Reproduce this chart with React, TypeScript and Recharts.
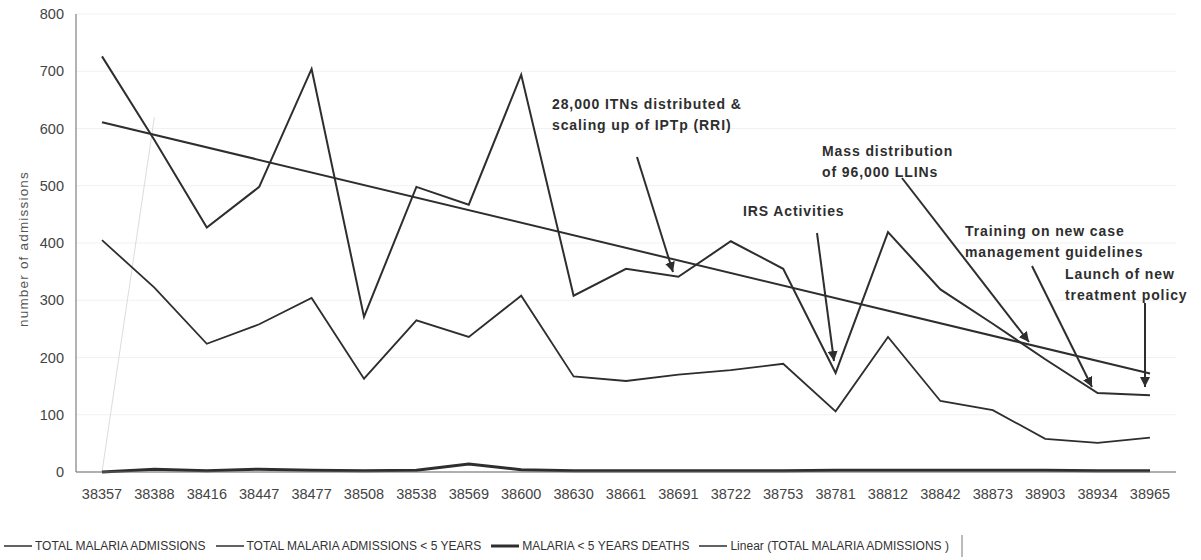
import React from 'react';
import { LineChart, Line, XAxis, YAxis, CartesianGrid } from 'recharts';

// Monthly reporting periods (spreadsheet serial dates)
const months = [
  '38357', '38388', '38416', '38447', '38477', '38508', '38538', '38569', '38600', '38630', '38661',
  '38691', '38722', '38753', '38781', '38812', '38842', '38873', '38903', '38934', '38965',
];

const totalAdmissions = [726, 580, 427, 498, 704, 271, 498, 467, 694, 308, 355, 341, 403, 355, 173, 419, 319, 259, 197, 138, 134];
const under5Admissions = [405, 322, 224, 258, 304, 163, 265, 236, 308, 167, 159, 170, 178, 189, 106, 236, 124, 108, 58, 51, 60];
const under5Deaths = [0, 5, 2, 5, 3, 2, 3, 14, 4, 2, 2, 2, 2, 2, 3, 3, 3, 3, 3, 2, 2];
// Linear trend of total admissions: end points only, joined straight
const trendTotal: (number | null)[] = [611, null, null, null, null, null, null, null, null, null, null, null, null, null, null, null, null, null, null, null, 172];
// Faint helper series visible at the start of the period
const faintSeries: (number | null)[] = [0, 620, null, null, null, null, null, null, null, null, null, null, null, null, null, null, null, null, null, null, null];

const yTicks = [0, 100, 200, 300, 400, 500, 600, 700, 800];

const legendItems = [
  { label: 'TOTAL MALARIA ADMISSIONS', width: 1.5 },
  { label: 'TOTAL MALARIA ADMISSIONS < 5 YEARS', width: 1.5 },
  { label: 'MALARIA < 5 YEARS DEATHS', width: 3 },
  { label: 'Linear (TOTAL MALARIA ADMISSIONS )', width: 1.5 },
];

// Event annotations (text block origin and arrow tail -> head)
const annotations = [
  { lines: ['28,000 ITNs distributed &', 'scaling up of IPTp (RRI)'], x: 552, y: 104, arrow: [637, 157, 673, 272] },
  { lines: ['IRS Activities'], x: 743, y: 211, arrow: [817, 233, 834, 361] },
  { lines: ['Mass distribution', 'of 96,000 LLINs'], x: 822, y: 151, arrow: [902, 178, 1029, 342] },
  { lines: ['Training on new case', 'management guidelines'], x: 965, y: 231, arrow: [1032, 266, 1092, 387] },
  { lines: ['Launch of new', 'treatment policy'], x: 1065, y: 274, arrow: [1145, 303, 1145, 387] },
];

const data = months.map((m, i) => ({
  month: m,
  total: totalAdmissions[i],
  under5: under5Admissions[i],
  deaths: under5Deaths[i],
  trend: trendTotal[i],
  faint: faintSeries[i],
}));

const FONT = '"Liberation Sans", Arial, Helvetica, sans-serif';
const INK = '#2e2e2e';

const YTitle = (props: any) => {
  const vb = props.viewBox || { x: 0, y: 0, width: 0, height: 0 };
  const cx = vb.x + 23;
  const cy = vb.y + vb.height / 2 + 6;
  return (
    <text
      x={cx}
      y={cy}
      transform={`rotate(-90, ${cx}, ${cy})`}
      textAnchor="middle"
      dominantBaseline="central"
      fill="#555"
      fontSize={13.5}
      letterSpacing={1.2}
      fontFamily={FONT}
    >
      number of admissions
    </text>
  );
};

export default function App() {
  return (
    <div style={{ position: 'absolute', left: 0, top: 0, width: 1201, height: 560, background: '#fff', fontFamily: FONT }}>
      <LineChart width={1201} height={560} data={data} margin={{ top: 14, right: 25, left: 0, bottom: 58 }}>
        <CartesianGrid vertical={false} stroke="#f1f1f1" />
        <XAxis
          dataKey="month"
          height={30}
          padding={{ left: 26, right: 26 }}
          tickLine={false}
          axisLine={{ stroke: '#666', strokeWidth: 1 }}
          tickMargin={11}
          tick={{ fill: '#444', fontSize: 14.5, fontFamily: FONT }}
          interval={0}
        />
        <YAxis
          width={76}
          domain={[0, 800]}
          ticks={yTicks}
          tickLine={false}
          tickSize={0}
          tickMargin={12}
          axisLine={{ stroke: '#666', strokeWidth: 1 }}
          tick={{ fill: '#444', fontSize: 14.5, fontFamily: FONT }}
          label={{ content: YTitle }}
        />
        <YAxis
          yAxisId="frame"
          orientation="right"
          width={0}
          domain={[0, 800]}
          tick={false}
          tickLine={false}
          axisLine={{ stroke: '#9a9a9a', strokeDasharray: '1 2' }}
        />
        <Line dataKey="faint" stroke="#dcdcdc" strokeWidth={1} dot={false} legendType="none" isAnimationActive={false} />
        <Line dataKey="deaths" stroke={INK} strokeWidth={3} dot={false} isAnimationActive={false} />
        <Line dataKey="under5" stroke={INK} strokeWidth={1.8} dot={false} isAnimationActive={false} />
        <Line dataKey="total" stroke={INK} strokeWidth={2} dot={false} isAnimationActive={false} />
        <Line dataKey="trend" stroke={INK} strokeWidth={2} dot={false} connectNulls isAnimationActive={false} />
      </LineChart>

      <svg width={1201} height={560} style={{ position: 'absolute', left: 0, top: 0, pointerEvents: 'none' }}>
        <defs>
          <marker id="head" viewBox="0 0 10 10" refX="10" refY="5" markerWidth="10" markerHeight="10" markerUnits="userSpaceOnUse" orient="auto">
            <path d="M0,0 L10,5 L0,10 z" fill={INK} />
          </marker>
        </defs>
        {annotations.map((a, i) => (
          <g key={i}>
            {a.lines.map((t, j) => (
              <text
                key={j}
                x={a.x}
                y={a.y + j * 21}
                dominantBaseline="central"
                fontFamily={FONT}
                fontWeight="bold"
                fontSize={14}
                letterSpacing={0.9}
                fill={INK}
              >
                {t}
              </text>
            ))}
            <line x1={a.arrow[0]} y1={a.arrow[1]} x2={a.arrow[2]} y2={a.arrow[3]} stroke={INK} strokeWidth={2} markerEnd="url(#head)" />
          </g>
        ))}
      </svg>

      <div
        style={{
          position: 'absolute',
          left: 4,
          top: 535,
          display: 'flex',
          alignItems: 'center',
          fontSize: 12,
          color: '#333',
          fontFamily: FONT,
          whiteSpace: 'nowrap',
        }}
      >
        {legendItems.map((it, i) => (
          <div key={i} style={{ display: 'flex', alignItems: 'center', marginRight: 10 }}>
            <svg width={28} height={10} style={{ marginRight: 3 }}>
              <line x1={0} y1={5} x2={28} y2={5} stroke={INK} strokeWidth={it.width} />
            </svg>
            <span>{it.label}</span>
          </div>
        ))}
        <div style={{ width: 2, height: 22, background: '#bbb', marginLeft: 2 }} />
      </div>
    </div>
  );
}
